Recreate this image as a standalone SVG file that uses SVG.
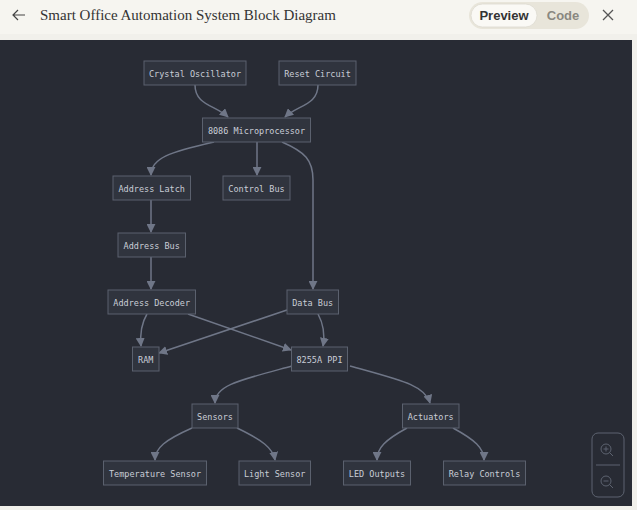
<svg xmlns="http://www.w3.org/2000/svg" width="637" height="510" viewBox="0 0 637 510">
<defs>
<style>
.nb{fill:#30343e;stroke:#5b616e;stroke-width:1}
.nt{font-family:"DejaVu Sans Mono","Liberation Mono",monospace;font-size:8.5px;fill:#c9cdd6;text-anchor:middle;dominant-baseline:central}
.e{fill:none;stroke:#6f7687;stroke-width:1.5}
</style>
<marker id="ah" viewBox="0 0 10 10" refX="9" refY="5" markerWidth="9" markerHeight="9" markerUnits="userSpaceOnUse" orient="auto">
<path d="M0,0 L10,5 L0,10 z" fill="#6f7687"/>
</marker>
</defs>
<rect x="0" y="0" width="637" height="510" fill="#f1f0eb"/>
<rect x="0" y="0" width="637" height="34" fill="#f6f5f0"/>
<g id="header">
<path d="M25,15 H13 M18,10 L13,15 L18,20" fill="none" stroke="#444" stroke-width="1.2"/>
<text x="40" y="20" font-family="Liberation Serif,serif" font-size="15" fill="#333">Smart Office Automation System Block Diagram</text>
<rect x="469" y="2" width="120" height="27" rx="13.5" fill="#e8e5da"/>
<rect x="471" y="4" width="66" height="23" rx="11.5" fill="#faf9f5" stroke="#dcd9cf" stroke-width="0.8"/>
<text x="504" y="20" text-anchor="middle" font-family="Liberation Sans,Arial,sans-serif" font-weight="bold" font-size="13" fill="#333">Preview</text>
<text x="563" y="20" text-anchor="middle" font-family="Liberation Sans,Arial,sans-serif" font-weight="bold" font-size="13" fill="#8a8880">Code</text>
<path d="M603,10 L613,20 M613,10 L603,20" stroke="#555" stroke-width="1.3"/>
</g>
<rect x="0" y="40" width="632" height="466" fill="#282b34"/>
<g id="connectors">
<path class="e" d="M195,85 C195,105 215,105 228,117" marker-end="url(#ah)"/>
<path class="e" d="M318,85 C318,105 298,105 285,117" marker-end="url(#ah)"/>
<path class="e" d="M214,142 C170,152 151,158 151,175" marker-end="url(#ah)"/>
<path class="e" d="M257,142 L257,175" marker-end="url(#ah)"/>
<path class="e" d="M282,142 C305,152 313,160 313,180 L313,289" marker-end="url(#ah)"/>
<path class="e" d="M151,200 L151,232" marker-end="url(#ah)"/>
<path class="e" d="M151,257 L151,289" marker-end="url(#ah)"/>
<path class="e" d="M147,314 C141,324 140,335 141,346" marker-end="url(#ah)"/>
<path class="e" d="M188,314 L291,350" marker-end="url(#ah)"/>
<path class="e" d="M287,310 L159,353" marker-end="url(#ah)"/>
<path class="e" d="M318,314 C324,325 325,335 323,346" marker-end="url(#ah)"/>
<path class="e" d="M292,366 C240,380 215,385 215,403" marker-end="url(#ah)"/>
<path class="e" d="M350,366 C400,380 425,385 430,403" marker-end="url(#ah)"/>
<path class="e" d="M192,428 C165,440 155,448 155,460" marker-end="url(#ah)"/>
<path class="e" d="M237,428 C262,440 273,448 275,460" marker-end="url(#ah)"/>
<path class="e" d="M407,428 C385,440 377,448 377,460" marker-end="url(#ah)"/>
<path class="e" d="M453,428 C475,440 484,448 484,460" marker-end="url(#ah)"/>
</g>
<g id="crystal"><rect class="nb" x="144" y="61" width="102" height="24"/><text class="nt" x="195" y="73.5">Crystal Oscillator</text></g>
<g id="reset"><rect class="nb" x="279" y="61" width="77" height="24"/><text class="nt" x="317.5" y="73.5">Reset Circuit</text></g>
<g id="cpu"><rect class="nb" x="202.5" y="118" width="108" height="24"/><text class="nt" x="256.5" y="130.5">8086 Microprocessor</text></g>
<g id="addrlatch"><rect class="nb" x="113" y="176" width="77.5" height="24"/><text class="nt" x="151.7" y="188.5">Address Latch</text></g>
<g id="ctrlbus"><rect class="nb" x="223" y="176" width="67" height="24"/><text class="nt" x="256.5" y="188.5">Control Bus</text></g>
<g id="addrbus"><rect class="nb" x="118" y="233" width="67.5" height="24"/><text class="nt" x="151.7" y="245.5">Address Bus</text></g>
<g id="addrdec"><rect class="nb" x="108" y="290" width="87.5" height="24"/><text class="nt" x="151.7" y="302.5">Address Decoder</text></g>
<g id="databus"><rect class="nb" x="287" y="290" width="51.5" height="24"/><text class="nt" x="312.7" y="302.5">Data Bus</text></g>
<g id="ram"><rect class="nb" x="132.5" y="347" width="26.5" height="24"/><text class="nt" x="145.7" y="359.5">RAM</text></g>
<g id="ppi"><rect class="nb" x="291.5" y="347" width="56" height="24"/><text class="nt" x="319.5" y="359.5">8255A PPI</text></g>
<g id="sensors"><rect class="nb" x="192" y="404" width="46" height="24"/><text class="nt" x="215" y="416.5">Sensors</text></g>
<g id="actuators"><rect class="nb" x="402.5" y="404" width="56.5" height="24"/><text class="nt" x="430.7" y="416.5">Actuators</text></g>
<g id="temp"><rect class="nb" x="103.5" y="461" width="103" height="24"/><text class="nt" x="155" y="473.5">Temperature Sensor</text></g>
<g id="light"><rect class="nb" x="239" y="461" width="71.5" height="24"/><text class="nt" x="274.7" y="473.5">Light Sensor</text></g>
<g id="led"><rect class="nb" x="343.5" y="461" width="67" height="24"/><text class="nt" x="377" y="473.5">LED Outputs</text></g>
<g id="relay"><rect class="nb" x="443.5" y="461" width="82" height="24"/><text class="nt" x="484.5" y="473.5">Relay Controls</text></g>
<g id="zoomctl" fill="none" stroke="#5d6370" stroke-width="1">
<rect x="592" y="433" width="32" height="64" rx="6"/>
<line x1="596" y1="465" x2="620" y2="465"/>
<circle cx="606" cy="449" r="5"/><line x1="609.5" y1="452.5" x2="613" y2="456"/><path d="M603.5,449 H608.5 M606,446.5 V451.5"/>
<circle cx="606" cy="481" r="5"/><line x1="609.5" y1="484.5" x2="613" y2="488"/><path d="M603.5,481 H608.5"/>
</g>
</svg>
